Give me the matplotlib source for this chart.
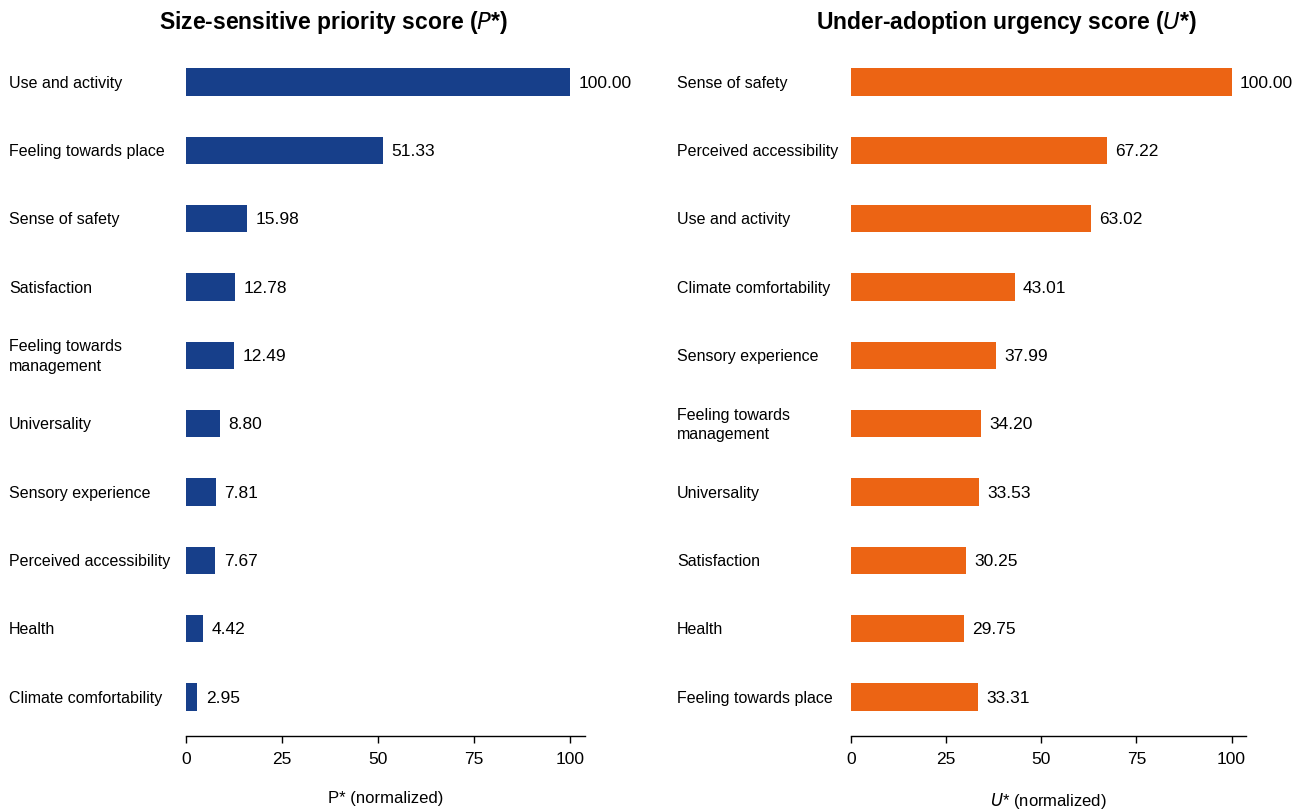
import matplotlib.pyplot as plt
from matplotlib.transforms import blended_transform_factory

plt.rcParams['font.family'] = ['Liberation Sans', 'DejaVu Sans']

# Left panel: size-sensitive priority score
p_labels = ['Use and activity', 'Feeling towards place', 'Sense of safety', 'Satisfaction',
            'Feeling towards\nmanagement', 'Universality', 'Sensory experience',
            'Perceived accessibility', 'Health', 'Climate comfortability']
p_values = [100.00, 51.33, 15.98, 12.78, 12.49, 8.80, 7.81, 7.67, 4.42, 2.95]

# Right panel: under-adoption urgency score
u_labels = ['Sense of safety', 'Perceived accessibility', 'Use and activity',
            'Climate comfortability', 'Sensory experience', 'Feeling towards\nmanagement',
            'Universality', 'Satisfaction', 'Health', 'Feeling towards place']
u_values = [100.00, 67.22, 63.02, 43.01, 37.99, 34.20, 33.53, 30.25, 29.75, 33.31]

ticks = [0, 25, 50, 75, 100]

fig = plt.figure(figsize=(13.01, 8.12), dpi=100)
W, H = 1301, 812

def panel(x0, x1, labels, values, color, label_x, xlabel, title, title_x):
    ax = fig.add_axes([x0 / W, 1 - 737 / H, (x1 - x0) / W, (737 - 49) / H])
    y = list(range(len(values)))
    ax.barh(y, values, height=0.4, color=color)
    ax.set_ylim(9.57, -0.5)
    ax.set_xlim(0, 103.8)
    for yi, v in zip(y, values):
        ax.annotate(f'{v:.2f}', (v, yi), xytext=(6, 0), textcoords='offset points',
                    va='center', ha='left', fontsize=12.5)
    tr = blended_transform_factory(fig.transFigure, ax.transData)
    for yi, lab in zip(y, labels):
        ax.text(label_x / W, yi, lab, transform=tr, ha='left', va='center',
                fontsize=11.5, linespacing=1.35)
    ax.set_yticks([])
    ax.set_xticks(ticks)
    ax.set_xticklabels([str(t) for t in ticks], fontsize=12.5)
    ax.tick_params(axis='x', length=5, width=1, pad=6)
    for s in ['top', 'right', 'left']:
        ax.spines[s].set_visible(False)
    ax.spines['bottom'].set_linewidth(1)
    ax.set_xlabel(xlabel, fontsize=12, labelpad=17)
    fig.text(title_x / W, 1 - 22 / H, title, ha='center', va='center',
             fontsize=16.5, fontweight='bold')
    return ax

panel(186, 585, p_labels, p_values, '#173f8a', 9, 'P* (normalized)',
      r'Size-sensitive priority score ($\mathbf{\it{P}}$*)', 334)
panel(851, 1246, u_labels, u_values, '#ec6414', 677, r'$U$* (normalized)',
      r'Under-adoption urgency score ($\mathbf{\it{U}}$*)', 1007)

fig.savefig('out.png', dpi=100)
